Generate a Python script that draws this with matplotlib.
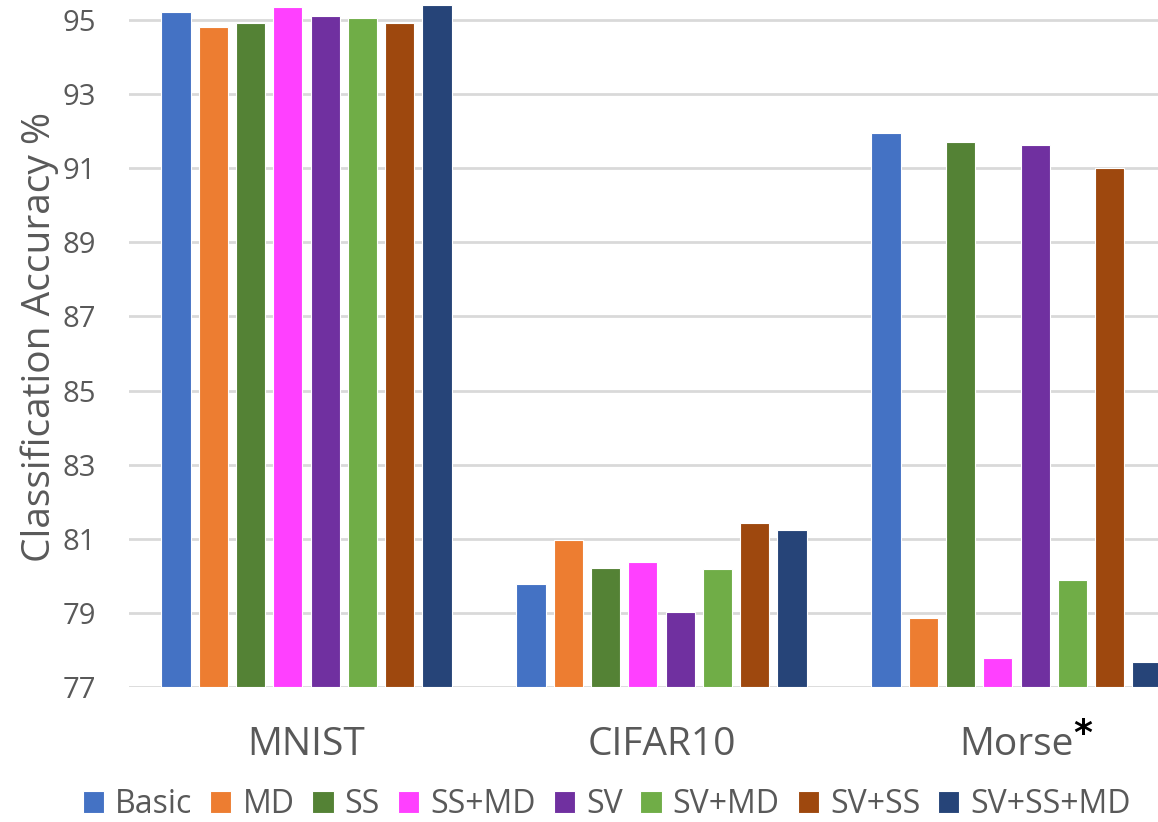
import numpy as np
import matplotlib
matplotlib.use("Agg")
import matplotlib.pyplot as plt

# accuracy per dataset for each feature combination
datasets = ["MNIST", "CIFAR10", "Morse"]
methods = ["Basic", "MD", "SS", "SS+MD", "SV", "SV+MD", "SV+SS", "SV+SS+MD"]
colors = ["#4472C4", "#ED7D31", "#548235", "#FF40FF",
          "#7030A0", "#70AD47", "#9E480E", "#264478"]

basic = [95.21, 79.78, 91.95]
md = [94.80, 80.96, 78.86]
ss = [94.91, 80.22, 91.70]
ss_md = [95.35, 80.38, 77.79]
sv = [95.10, 79.03, 91.63]
sv_md = [95.05, 80.18, 79.90]
sv_ss = [94.91, 81.43, 91.00]
sv_ss_md = [95.40, 81.25, 77.68]
series = [basic, md, ss, ss_md, sv, sv_md, sv_ss, sv_ss_md]

yticks = [77, 79, 81, 83, 85, 87, 89, 91, 93, 95]

plt.rcParams["font.family"] = ["Open Sans", "DejaVu Sans"]
text_grey = "#595959"

fig = plt.figure(figsize=(11.58, 8.22), dpi=100)
ax = fig.add_axes([0.1114, 0.1642, 0.9197, 0.8358])

x = np.arange(len(datasets))
pitch = 0.105
width = 0.082
for i, (vals, name, c) in enumerate(zip(series, methods, colors)):
    ax.bar(x + (i - 3.5) * pitch, np.array(vals) - 77, width, bottom=77,
           color=c, edgecolor="white", linewidth=0.8, label=name, zorder=3)

ax.set_xlim(-0.5, 2.5)
ax.set_ylim(77, 95.54)
ax.set_yticks(yticks)
ax.set_xticks(x)
ax.set_xticklabels(datasets)
ax.grid(axis="y", color="#D9D9D9", linewidth=2, zorder=0)
for s in ax.spines.values():
    s.set_visible(False)
ax.tick_params(axis="both", length=0, colors=text_grey)
ax.tick_params(axis="y", labelsize=21, pad=24)
ax.tick_params(axis="x", labelsize=28, pad=28)

ax.set_ylabel("Classification Accuracy %", fontsize=28, color=text_grey)
ax.yaxis.set_label_coords(-0.066, 0.51)

# asterisk on the Morse label
fig.text(1083 / 1158, 1 - 734 / 822, "*", fontsize=26, fontweight="bold",
         color="black", ha="center", va="center", family="DejaVu Sans")

fig.legend(loc="center", bbox_to_anchor=(0.524, 0.021), ncol=8,
           frameon=False, fontsize=23, labelcolor=text_grey,
           handlelength=0.66, handleheight=0.66, handletextpad=0.35,
           columnspacing=0.56, borderpad=0)

fig.savefig("out.png", dpi=100)
